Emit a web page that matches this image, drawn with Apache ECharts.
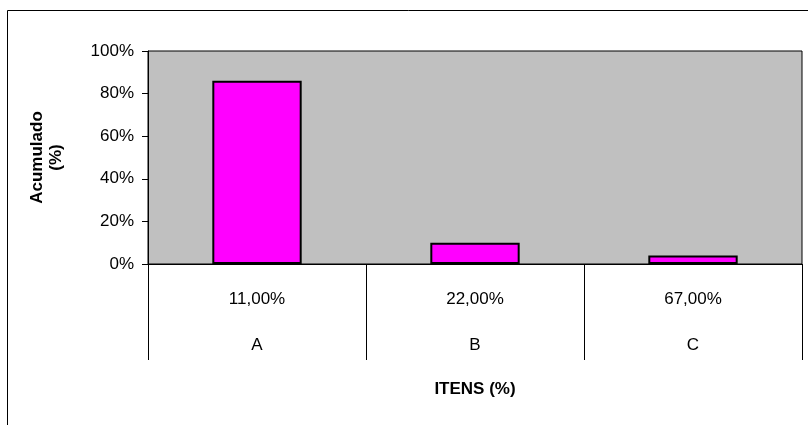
<!DOCTYPE html>
<html>
<head>
<meta charset="utf-8">
<script src="https://cdn.jsdelivr.net/npm/echarts@6/dist/echarts.min.js"></script>
<style>
  html, body { margin: 0; padding: 0; background: #fff; }
  #chart { width: 808px; height: 425px; }
</style>
</head>
<body>
<div id="chart"></div>
<script>
// ABC classes, share of items in each class, and accumulated share
const classes = ['A', 'B', 'C'];
const itemShares = ['11,00%', '22,00%', '67,00%'];
const accumulated = [86, 10, 4];
const yTicks = { min: 0, max: 100, step: 20 };

const FONT = '"Liberation Sans", Arial, sans-serif';

const chart = echarts.init(document.getElementById('chart'), null, { renderer: 'canvas' });

chart.setOption({
  animation: false,
  backgroundColor: '#ffffff',
  textStyle: { fontFamily: FONT },
  graphic: [{
    type: 'rect',
    shape: { x: 7.5, y: 10.5, width: 900, height: 500 },
    style: { fill: 'none', stroke: '#000', lineWidth: 1 },
    silent: true,
    z: -10
  }],
  grid: {
    left: 148,
    top: 51,
    right: 6,
    bottom: 161,
    show: true,
    backgroundColor: '#C0C0C0',
    borderColor: '#000',
    borderWidth: 1
  },
  xAxis: {
    type: 'category',
    data: classes,
    boundaryGap: true,
    name: 'ITENS (%)',
    nameLocation: 'middle',
    nameGap: 117,
    nameTextStyle: { fontFamily: FONT, fontSize: 17, fontWeight: 'bold', color: '#000' },
    axisLine: { show: true, lineStyle: { color: '#000', width: 1 } },
    axisTick: { show: true, interval: 0, length: 96, alignWithLabel: false, lineStyle: { color: '#000', width: 1 } },
    axisLabel: {
      interval: 0,
      margin: 12,
      fontFamily: FONT,
      fontSize: 17,
      color: '#000',
      lineHeight: 46,
      formatter: (v, i) => itemShares[i] + '\n' + v
    },
    splitLine: { show: false }
  },
  yAxis: {
    type: 'value',
    min: yTicks.min,
    max: yTicks.max,
    interval: yTicks.step,
    name: 'Acumulado\n(%)',
    nameLocation: 'middle',
    nameRotate: 90,
    nameGap: 82,
    nameTextStyle: { fontFamily: FONT, fontSize: 17, fontWeight: 'bold', color: '#000', lineHeight: 19 },
    axisLine: { show: true, lineStyle: { color: '#000', width: 1 } },
    axisTick: { show: true, length: 6, lineStyle: { color: '#000', width: 1 } },
    axisLabel: { margin: 14, fontFamily: FONT, fontSize: 17, color: '#000', formatter: '{value}%' },
    splitLine: { show: false }
  },
  series: [{
    type: 'bar',
    data: accumulated,
    barWidth: '41%',
    itemStyle: { color: '#FF00FF', borderColor: '#000', borderWidth: 2 }
  }]
});
</script>
</body>
</html>
